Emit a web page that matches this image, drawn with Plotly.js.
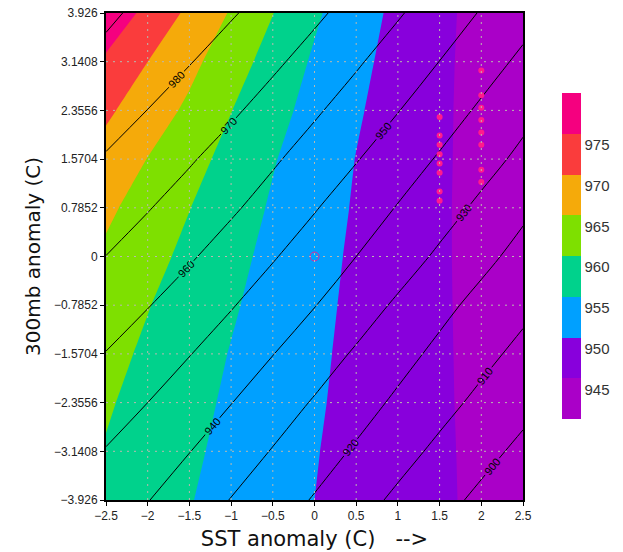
<!DOCTYPE html>
<html><head><meta charset="utf-8">
<script src="https://cdn.plot.ly/plotly-3.0.1.min.js"></script>
<style>html,body{margin:0;padding:0;background:#fff}#chart{width:623px;height:552px}</style>
</head><body><div id="chart"></div>
<script>
// grid coordinates
const sstAnomaly = [-2.5, -2, -1.5, -1, -0.5, 0, 0.5, 1, 1.5, 2, 2.5];
const upperAnomaly = [-3.926, -3.1408, -2.3556, -1.5704, -0.7852, 0, 0.7852, 1.5704, 2.3556, 3.1408, 3.926];

// shaded field (rows = upperAnomaly ascending, cols = sstAnomaly)
const shadedField = [
  [958.9, 957.1, 955.2, 953.4, 951.7, 950.0, 948.5, 947.1, 945.6, 944.2, 942.9],
  [959.7, 957.7, 955.7, 953.9, 952.0, 950.2, 948.7, 947.1, 945.6, 944.1, 942.8],
  [960.5, 958.4, 956.3, 954.3, 952.4, 950.5, 948.8, 947.2, 945.5, 944.1, 942.7],
  [961.5, 959.2, 957.0, 954.8, 952.8, 950.8, 948.9, 947.2, 945.5, 944.0, 942.6],
  [962.5, 960.2, 957.8, 955.5, 953.3, 951.1, 949.1, 947.3, 945.5, 943.9, 942.5],
  [964.2, 961.5, 958.9, 956.3, 953.8, 951.5, 949.3, 947.4, 945.5, 943.8, 942.3],
  [965.9, 963.0, 960.1, 957.3, 954.5, 952.0, 949.6, 947.6, 945.5, 943.8, 942.1],
  [968.2, 964.9, 961.7, 958.5, 955.3, 952.6, 949.9, 947.8, 945.6, 943.7, 941.9],
  [970.8, 967.5, 964.1, 960.1, 956.6, 953.4, 950.5, 948.0, 945.7, 943.6, 941.7],
  [974.2, 970.0, 966.3, 962.2, 958.1, 954.4, 951.2, 948.4, 945.8, 943.6, 941.5],
  [978.5, 973.7, 969.0, 964.6, 960.1, 955.7, 952.1, 948.9, 946.0, 943.6, 941.3]
];

// contoured (line) field
const contourField = [
  [945.0, 940.3, 935.0, 929.7, 924.5, 919.3, 913.6, 908.2, 903.1, 897.9, 892.6],
  [949.5, 944.9, 940.2, 934.9, 929.5, 924.2, 918.9, 913.3, 908.0, 902.9, 897.8],
  [954.8, 950.0, 945.1, 940.2, 934.7, 929.2, 923.8, 918.4, 913.0, 907.8, 902.8],
  [959.7, 955.0, 950.3, 945.3, 940.2, 934.6, 928.9, 923.2, 917.8, 912.6, 907.5],
  [965.0, 960.4, 955.5, 950.6, 945.4, 940.3, 934.5, 928.6, 922.6, 917.2, 912.3],
  [969.9, 965.5, 961.0, 955.9, 950.7, 945.4, 940.0, 934.4, 928.5, 922.5, 917.0],
  [974.8, 970.5, 965.9, 961.3, 956.1, 950.6, 945.1, 939.5, 933.9, 928.1, 921.8],
  [979.3, 975.1, 970.9, 966.1, 961.2, 955.9, 950.5, 944.8, 939.1, 933.5, 927.8],
  [983.8, 979.9, 975.6, 971.4, 966.4, 961.2, 955.8, 950.3, 944.5, 938.6, 932.7],
  [987.9, 984.1, 980.4, 976.0, 971.6, 966.5, 961.1, 955.5, 949.9, 944.0, 938.1],
  [991.4, 987.9, 984.3, 980.8, 976.4, 971.7, 966.5, 960.9, 955.2, 949.4, 943.5]
];

// red points
const pointsX = [1.5, 1.5, 1.5, 1.5, 1.5, 1.5, 1.5, 1.5, 2, 2, 2, 2, 2, 2, 2, 2];
const pointsY = [2.25, 1.95, 1.8, 1.65, 1.5, 1.35, 1.05, 0.9, 3.0, 2.6, 2.4, 2.2, 2.0, 1.8, 1.4, 1.2];
const originX = [0];
const originY = [0];

// ticks
const xTickVals = [-2.5, -2, -1.5, -1, -0.5, 0, 0.5, 1, 1.5, 2, 2.5];
const xTickLabels = ["\u22122.5", "\u22122", "\u22121.5", "\u22121", "\u22120.5", "0", "0.5", "1", "1.5", "2", "2.5"];
const yTickVals = [-3.926, -3.1408, -2.3556, -1.5704, -0.7852, 0, 0.7852, 1.5704, 2.3556, 3.1408, 3.926];
const yTickLabels = ["\u22123.926", "\u22123.1408", "\u22122.3556", "\u22121.5704", "\u22120.7852", "0", "0.7852", "1.5704", "2.3556", "3.1408", "3.926"];

// shading levels and colours
const colorbarLevels = [945, 950, 955, 960, 965, 970, 975];
const colorbarRange = [940, 980];
const bandColors = ["#aa00c8", "#8800dc", "#00a0ff", "#00d28c", "#7ee000", "#f5aa0a", "#fa3c3c", "#f5007f"];

const colorscale = bandColors.map((c, i) => [i / (bandColors.length - 1), c]);

const shaded = {
  type: "contour",
  x: sstAnomaly, y: upperAnomaly, z: shadedField,
  zmin: colorbarRange[0], zmax: colorbarRange[1], zauto: false,
  autocontour: false,
  contours: {start: colorbarLevels[0], end: colorbarLevels[colorbarLevels.length - 1], size: 5, coloring: "fill", showlines: false},
  line: {width: 0, smoothing: 0},
  colorscale: colorscale,
  hoverinfo: "skip",
  colorbar: {
    x: 1.0935, xanchor: "left", y: 0.5, yanchor: "middle",
    len: 326, lenmode: "pixels", thickness: 19, thicknessmode: "pixels",
    outlinewidth: 0, xpad: 0, ypad: 0,
    tickvals: colorbarLevels, ticktext: colorbarLevels.map(String),
    ticks: "", ticklabelposition: "outside bottom",
    tickfont: {family: "Liberation Sans", size: 15, color: "#333"}
  }
};

const lines = {
  type: "contour",
  x: sstAnomaly, y: upperAnomaly, z: contourField,
  autocontour: false,
  contours: {start: 900, end: 990, size: 10, coloring: "none", showlabels: true,
             labelfont: {family: "Liberation Sans", size: 11, color: "#000"}},
  line: {color: "#000", width: 1},
  showscale: false,
  hoverinfo: "skip"
};

const dots = {
  type: "scatter", mode: "markers", x: pointsX, y: pointsY,
  marker: {color: "#ff1a8c", size: 6}, hoverinfo: "skip"
};
const origin = {
  type: "scatter", mode: "markers", x: originX, y: originY,
  marker: {symbol: "circle-open", color: "#e8209a", size: 9, line: {width: 1}}, hoverinfo: "skip"
};

const gridColor = "rgb(185,185,175)";
const shapes = [];
xTickVals.slice(1, -1).forEach(v => shapes.push({type: "line", xref: "x", yref: "paper", x0: v, x1: v, y0: 0, y1: 1,
  line: {color: gridColor, width: 1, dash: "2px,5px"}, layer: "above"}));
yTickVals.slice(1, -1).forEach(v => shapes.push({type: "line", xref: "paper", yref: "y", x0: 0, x1: 1, y0: v, y1: v,
  line: {color: gridColor, width: 1, dash: "2px,5px"}, layer: "above"}));

const tickFont = {family: "Liberation Sans", size: 12, color: "#222"};
const titleFont = {family: "DejaVu Sans", size: 20, color: "#111"};

const layout = {
  width: 623, height: 552,
  margin: {l: 106, r: 100, t: 13, b: 52},
  paper_bgcolor: "#fff", plot_bgcolor: "#fff",
  showlegend: false,
  shapes: shapes,
  xaxis: {
    range: [-2.5, 2.5], tickvals: xTickVals, ticktext: xTickLabels,
    showgrid: false, zeroline: false, showline: true, mirror: true, linewidth: 2, linecolor: "#000",
    ticks: "outside", ticklen: 4, tickcolor: "#000", tickfont: tickFont,
    title: {text: "SST anomaly (C)\u00a0\u00a0\u00a0-->", font: {family: "DejaVu Sans", size: 21, color: "#111"}, standoff: 9}
  },
  yaxis: {
    range: [-3.926, 3.926], tickvals: yTickVals, ticktext: yTickLabels,
    showgrid: false, zeroline: false, showline: true, mirror: true, linewidth: 2, linecolor: "#000",
    ticks: "outside", ticklen: 4, tickcolor: "#000", tickfont: tickFont,
    title: {text: "300mb anomaly (C)", font: titleFont, standoff: 8}
  }
};

Plotly.newPlot("chart", [shaded, lines, dots, origin], layout, {staticPlot: true, displayModeBar: false});
</script></body></html>
